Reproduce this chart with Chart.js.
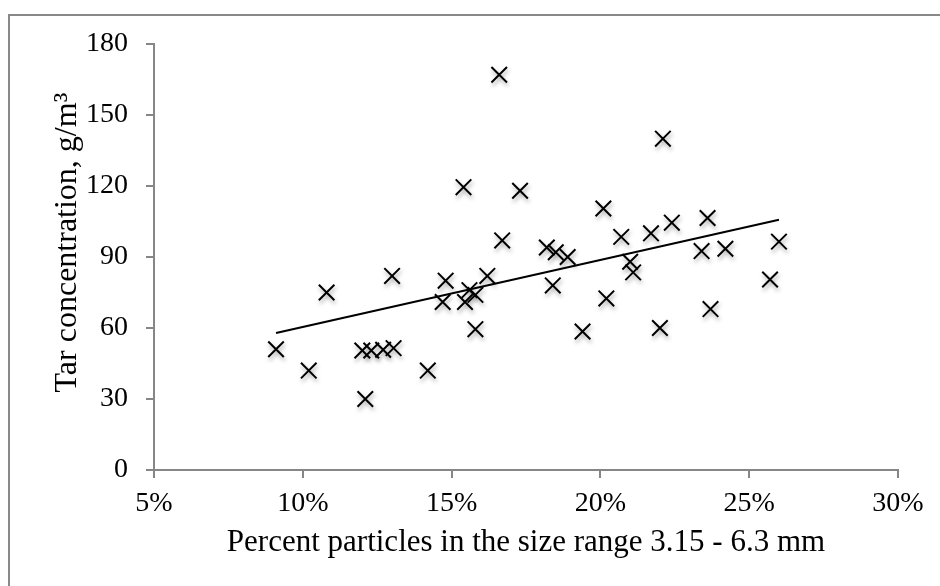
<!DOCTYPE html>
<html>
<head>
<meta charset="utf-8">
<script src="https://cdn.jsdelivr.net/npm/chart.js@4"></script>
<style>
  html, body { margin: 0; padding: 0; background: #fff; overflow: hidden; }
  #wrap { position: relative; width: 940px; height: 586px; }
  #frame {
    position: absolute; left: 8px; top: 14px; width: 2000px; height: 2000px;
    border-top: 2px solid #898989; border-left: 2px solid #898989;
  }
  canvas { position: absolute; left: 0; top: 0; }
</style>
</head>
<body>
<div id="wrap">
  <div id="frame"></div>
  <canvas id="chart" width="940" height="586"></canvas>
</div>
<script>
// percent of particles 3.15 - 6.3 mm
const pct = [9.1, 10.2, 10.8, 12.0, 12.3, 12.7, 13.05, 12.1, 13.0, 14.2,
             14.8, 14.7, 15.45, 15.4, 15.6, 15.8, 15.8, 16.2, 16.7, 16.6,
             17.3, 18.2, 18.5, 18.9, 18.4, 19.4, 20.1, 20.2, 20.7, 21.0,
             21.1, 21.7, 22.0, 22.1, 22.4, 23.4, 23.6, 23.7, 24.2, 25.7, 26.0];
// tar concentration g/m3
const tar = [51, 42, 75, 50.5, 50.5, 50.8, 51.5, 30, 82, 42,
             80, 71, 71, 119.5, 76, 74, 59.5, 82, 97, 167,
             118, 94, 92, 90, 78, 58.5, 110.5, 72.5, 98.5, 88,
             83.5, 100, 60, 140, 104.5, 92.5, 106.5, 68, 93.5, 80.5, 96.5];
// linear trendline ends
const trendX = [9.1, 26.0];
const trendY = [57.9, 105.7];

const yTicks = [0, 30, 60, 90, 120, 150, 180];
const xTicks = [5, 10, 15, 20, 25, 30];

const axisGray = "#868686";
const serif = "'Liberation Serif', 'Times New Roman', serif";

const shadow = {
  id: "shadow",
  beforeDatasetDraw(chart, args) {
    if (args.index !== 0) return;
    const c = chart.ctx;
    c.save();
    c.shadowColor = "rgba(0,0,0,0.35)";
    c.shadowBlur = 4;
    c.shadowOffsetX = 1;
    c.shadowOffsetY = 3;
  },
  afterDatasetDraw(chart, args) {
    if (args.index !== 0) return;
    chart.ctx.restore();
  }
};

new Chart(document.getElementById("chart"), {
  type: "scatter",
  data: {
    datasets: [{
      data: pct.map((x, i) => ({ x, y: tar[i] })),
      pointStyle: "crossRot",
      pointRadius: 11,
      pointHoverRadius: 11,
      borderColor: "#000",
      borderWidth: 2,
      order: 1
    }, {
      type: "line",
      data: trendX.map((x, i) => ({ x, y: trendY[i] })),
      borderColor: "#000",
      borderWidth: 2,
      pointRadius: 0,
      fill: false,
      order: 0
    }]
  },
  options: {
    responsive: false,
    animation: false,
    layout: { padding: { left: 0, top: 44, right: 42, bottom: 0 } },
    plugins: { legend: { display: false }, tooltip: { enabled: false } },
    scales: {
      x: {
        type: "linear",
        min: 5, max: 30,
        afterBuildTicks: s => { s.ticks = xTicks.map(v => ({ value: v })); },
        afterFit: s => { s.height = 116; },
        grid: { drawOnChartArea: false, tickLength: 8, color: axisGray, lineWidth: 2 },
        border: { color: axisGray, width: 2 },
        ticks: { color: "#000", padding: 9, font: { family: serif, size: 28 },
                 callback: v => v + "%" },
        title: { display: true, text: "Percent particles in the size range 3.15 - 6.3 mm",
                 color: "#000", font: { family: serif, size: 31 }, padding: { bottom: 25 } }
      },
      y: {
        min: 0, max: 180,
        afterBuildTicks: s => { s.ticks = yTicks.map(v => ({ value: v })); },
        afterFit: s => { s.width = 154; },
        grid: { drawOnChartArea: false, tickLength: 8, color: axisGray, lineWidth: 2 },
        border: { color: axisGray, width: 2 },
        ticks: { color: "#000", padding: 18, font: { family: serif, size: 28 } },
        // leading spaces nudge the rotated title upward like the original
        title: { display: true, text: "\u2002\u2009\u2009Tar concentration, g/m³",
                 color: "#000", font: { family: serif, size: 32 }, padding: { top: 48 } }
      }
    }
  },
  plugins: [shadow]
});
</script>
</body>
</html>
